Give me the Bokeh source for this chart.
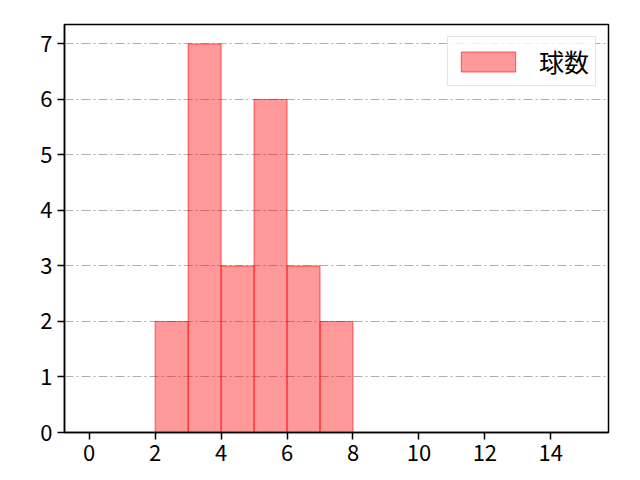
from bokeh.plotting import figure
from bokeh.models import FixedTicker, Range1d
from bokeh.embed import file_html
from bokeh.resources import INLINE

# histogram: bin edges and counts
bin_edges = [0, 1, 2, 3, 4, 5, 6, 7, 8, 9, 10, 11, 12, 13, 14, 15]
counts = [0, 0, 2, 7, 3, 6, 3, 2, 0, 0, 0, 0, 0, 0, 0]
series_name = "球数"
x_ticks = [0, 2, 4, 6, 8, 10, 12, 14]
y_ticks = [0, 1, 2, 3, 4, 5, 6, 7]

lefts = [bin_edges[i] for i in range(len(counts)) if counts[i] > 0]
rights = [bin_edges[i + 1] for i in range(len(counts)) if counts[i] > 0]
tops = [c for c in counts if c > 0]

font = "Noto Sans CJK JP"

p = figure(width=640, height=480, output_backend="svg", toolbar_location=None,
           x_range=Range1d(-0.75, 15.75), y_range=Range1d(0, 7.35),
           min_border_left=64, min_border_right=32, min_border_top=24, min_border_bottom=48)

p.quad(left=lefts, right=rights, bottom=0, top=tops,
       fill_color="red", fill_alpha=0.4, line_color="red", line_alpha=0.6, line_width=1,
       legend_label=series_name)

p.background_fill_color = "white"
p.border_fill_color = "white"
p.outline_line_color = "black"
p.outline_line_width = 1.5

p.xgrid.grid_line_color = None
p.ygrid.grid_line_color = "#b0b0b0"
p.ygrid.grid_line_width = 1
p.ygrid.grid_line_dash = "9 3 2 3"

p.xaxis.ticker = FixedTicker(ticks=x_ticks)
p.yaxis.ticker = FixedTicker(ticks=y_ticks)

for ax in (p.xaxis, p.yaxis):
    ax.axis_line_color = "black"
    ax.axis_line_width = 1.5
    ax.major_tick_line_color = "black"
    ax.major_tick_line_width = 1.5
    ax.major_tick_out = 7
    ax.major_tick_in = 0
    ax.minor_tick_line_color = None
    ax.major_label_text_font = font
    ax.major_label_text_font_size = "22px"
    ax.major_label_text_color = "black"
    ax.major_label_standoff = 5

p.legend.location = "top_right"
p.legend.margin = 12
p.legend.padding = 6
p.legend.glyph_width = 68
p.legend.glyph_height = 25
p.legend.label_height = 20
p.legend.label_standoff = 17
p.legend.label_text_font = font
p.legend.label_text_font_size = "25px"
p.legend.label_text_color = "black"
p.legend.border_line_color = "#cccccc"
p.legend.border_line_width = 1
p.legend.background_fill_alpha = 0.8

open("out.html", "w").write(file_html(p, INLINE))
